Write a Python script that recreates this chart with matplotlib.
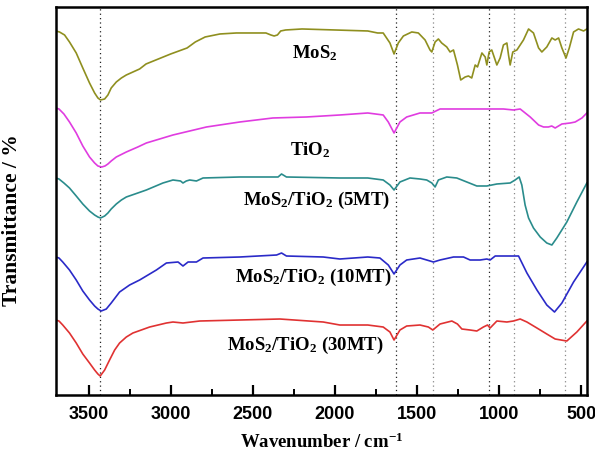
import numpy as np
import matplotlib
matplotlib.use("Agg")
from matplotlib import pyplot as plt
from matplotlib.ticker import MultipleLocator

plt.rcParams["mathtext.fontset"] = "custom"
plt.rcParams["mathtext.rm"] = "Liberation Serif:bold"
plt.rcParams["mathtext.it"] = "Liberation Serif:italic:bold"
plt.rcParams["mathtext.bf"] = "Liberation Serif:bold"

# values (arbitrary transmittance, offset per sample)
wn_mos2 = [3700, 3677, 3646, 3616, 3575, 3535, 3494, 3463, 3443, 3427,
           3402, 3382, 3362, 3331, 3300, 3270, 3189, 3150, 3090, 3000,
           2900, 2850, 2790, 2700, 2600, 2420, 2390, 2370, 2350, 2330,
           2300, 2200, 2000, 1800, 1740, 1706, 1665, 1640, 1614, 1583,
           1532, 1492, 1451, 1421, 1410, 1390, 1370, 1350, 1319, 1299,
           1278, 1254, 1234, 1207, 1187, 1167, 1146, 1132, 1105, 1085,
           1075, 1061, 1045, 1014, 994, 974, 953, 943, 933, 917,
           892, 872, 852, 821, 791, 760, 740, 710, 679, 659,
           638, 618, 593, 573, 547, 517, 486, 466]
t_mos2 = [369, 368, 365, 358, 347, 332, 317, 307, 302, 300,
          301, 305, 312, 318, 322, 325, 331, 336, 340, 346,
          352, 358, 363, 366, 367, 367, 365, 364, 365, 369,
          370, 371, 370, 369, 367, 367, 357, 346, 357, 364,
          368, 367, 360, 350, 348, 358, 361, 357, 353, 348,
          350, 335, 320, 323, 324, 322, 335, 333, 347, 343,
          335, 348, 350, 335, 342, 355, 357, 345, 335, 348,
          350, 355, 360, 371, 367, 352, 348, 353, 362, 360,
          362, 352, 342, 352, 368, 371, 369, 371]

wn_tio2 = [3700, 3680, 3650, 3616, 3575, 3535, 3494, 3463, 3443, 3420,
           3400, 3382, 3362, 3331, 3270, 3200, 3148, 2986, 2782, 2579,
           2378, 2173, 1970, 1800, 1706, 1675, 1640, 1604, 1563, 1482,
           1410, 1360, 1177, 974, 913, 872, 811, 760, 730, 700,
           680, 659, 618, 567, 537, 496, 466]
t_tio2 = [292, 291, 286, 278, 267, 254, 243, 237, 234, 233,
          234, 236, 239, 243, 248, 253, 257, 265, 273, 278,
          282, 283, 285, 287, 285, 278, 267, 278, 283, 287,
          287, 291, 291, 291, 290, 291, 283, 275, 273, 273,
          274, 272, 276, 277, 278, 282, 287]

wn_5mt = [3700, 3680, 3650, 3616, 3575, 3535, 3494, 3463, 3443, 3427,
          3402, 3382, 3362, 3331, 3300, 3270, 3200, 3148, 3047, 2986,
          2940, 2925, 2905, 2884, 2843, 2803, 2579, 2346, 2325, 2295,
          1970, 1800, 1706, 1665, 1640, 1604, 1543, 1482, 1441, 1410,
          1390, 1370, 1319, 1258, 1197, 1136, 1075, 1014, 933, 903,
          878, 862, 842, 821, 791, 750, 710, 679, 649, 588,
          527, 466]
t_5mt = [222, 221, 217, 212, 204, 196, 189, 185, 183, 182,
         184, 187, 191, 196, 200, 203, 207, 210, 217, 220,
         219, 217, 219, 220, 219, 222, 223, 223, 226, 223,
         222, 222, 220, 215, 210, 218, 222, 221, 220, 217,
         213, 220, 223, 222, 218, 214, 214, 216, 217, 220,
         223, 215, 195, 182, 172, 163, 157, 155, 162, 178,
         198, 217]

wn_10mt = [3700, 3680, 3657, 3616, 3575, 3535, 3494, 3463, 3443, 3423,
           3392, 3362, 3311, 3250, 3189, 3087, 3026, 2955, 2925, 2894,
           2843, 2803, 2579, 2355, 2325, 2295, 2071, 1970, 1800, 1726,
           1675, 1640, 1604, 1563, 1482, 1441, 1400, 1360, 1278, 1217,
           1177, 1116, 1075, 1055, 1024, 882, 831, 770, 710, 663,
           618, 547, 466]
t_10mt = [143, 142, 138, 130, 120, 109, 100, 94, 91, 89,
          91, 97, 108, 115, 120, 130, 137, 138, 134, 138,
          138, 142, 143, 145, 147, 144, 143, 141, 143, 142,
          135, 126, 135, 140, 142, 140, 138, 140, 143, 143,
          140, 140, 141, 140, 144, 144, 127, 110, 95, 88,
          97, 118, 138]

wn_30mt = [3700, 3680, 3657, 3616, 3575, 3535, 3494, 3463, 3443, 3429,
           3402, 3372, 3341, 3311, 3270, 3230, 3128, 3026, 2986, 2925,
           2823, 2579, 2335, 2071, 1970, 1800, 1706, 1665, 1640, 1604,
           1563, 1482, 1431, 1404, 1360, 1288, 1254, 1227, 1177, 1136,
           1096, 1071, 1055, 1014, 953, 913, 872, 831, 770, 710,
           659, 588, 527, 466]
t_30mt = [80, 79, 75, 67, 57, 46, 37, 30, 26, 24,
          30, 40, 50, 57, 63, 67, 73, 77, 78, 77,
          79, 80, 81, 78, 75, 75, 73, 68, 60, 70,
          74, 75, 73, 70, 76, 79, 76, 71, 70, 69,
          73, 75, 72, 79, 78, 79, 81, 78, 72, 66,
          61, 59, 68, 79]

peak_lines = [3430, 1630, 1400, 1060, 910, 600]
peak_dark = [True, True, False, True, False, False]

labels = ["MoS$_2$", "TiO$_2$", "MoS$_2$/TiO$_2$ (5MT)",
          "MoS$_2$/TiO$_2$ (10MT)", "MoS$_2$/TiO$_2$ (30MT)"]
label_pos = [(2122, 347), (2152, 250), (2110, 200), (2130, 123), (2180, 55)]
colors = ["#8f8f1f", "#e03ce0", "#2a8c8c", "#2a2ac8", "#e03232"]

series = [(wn_mos2, t_mos2), (wn_tio2, t_tio2), (wn_5mt, t_5mt),
          (wn_10mt, t_10mt), (wn_30mt, t_30mt)]

serif = "Liberation Serif"
sans = "Liberation Sans"

fig = plt.figure(figsize=(5.95, 4.65), dpi=100)
ax = fig.add_axes([0.0936, 0.1505, 0.893, 0.8345])

for x, dark in zip(peak_lines, peak_dark):
    ax.axvline(x, color="#222222" if dark else "#888888", ls=(0, (1, 2.5)), lw=0.9, zorder=1)

for (x, y), c in zip(series, colors):
    ax.plot(x, y, color=c, lw=1.2, zorder=2, solid_joinstyle="round")

for txt, (x, y) in zip(labels, label_pos):
    ax.text(x, y, txt, ha="center", va="center", fontsize=13.5,
            fontweight="bold", family=serif)

ax.set_xlim(3700, 465)
ax.set_ylim(5, 393)
ax.xaxis.set_major_locator(MultipleLocator(500))
ax.xaxis.set_minor_locator(MultipleLocator(250))
ax.tick_params(axis="x", which="major", direction="in", length=7, width=1.6,
               top=False, labelsize=13, pad=8)
ax.tick_params(axis="x", which="minor", direction="in", length=4, width=1.4, top=False)
ax.set_yticks([])
for lab in ax.get_xticklabels():
    lab.set_family(sans)
    lab.set_fontweight("bold")
for sp in ax.spines.values():
    sp.set_linewidth(1.8)

ax.set_xlabel("Wavenumber / cm$^{-1}$", fontsize=13.5, fontweight="bold",
              family=serif, labelpad=7)
ax.set_ylabel("Transmittance / %", fontsize=15.5, fontweight="bold",
              family=serif)
ax.yaxis.set_label_coords(-0.063, 0.45)

fig.savefig("out.png", dpi=100)
